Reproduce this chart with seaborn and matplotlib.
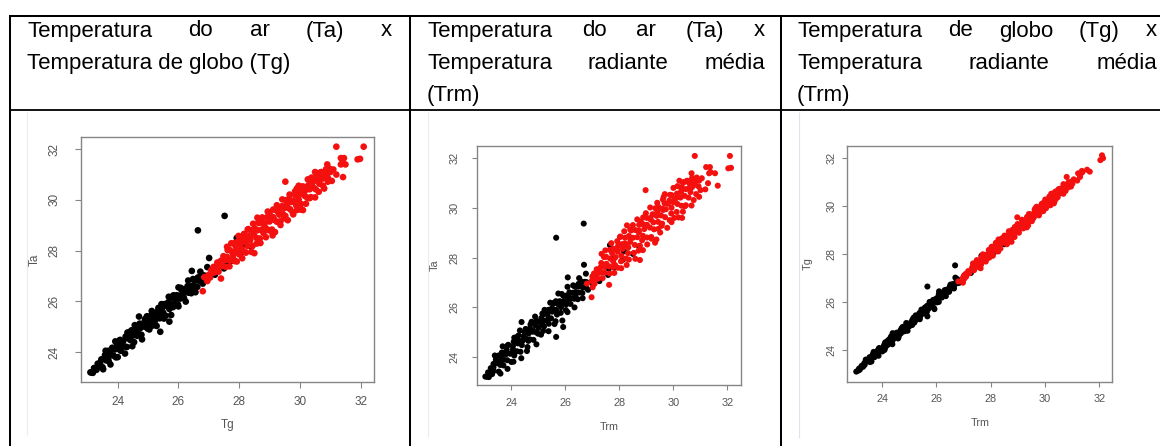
import matplotlib
matplotlib.use("Agg")
import matplotlib.pyplot as plt
from matplotlib.lines import Line2D
import pandas as pd
import seaborn as sns

# ---------------- data ----------------
# black group: Tg, Ta, Trm of each observation
tg_preto = [
    23.10, 23.14, 23.18, 23.22, 23.26, 23.30, 23.34, 23.38, 23.42, 23.46,
    23.50, 23.54, 23.58, 23.62, 23.66, 23.70, 23.74, 23.78, 23.82, 23.86,
    23.90, 23.94, 23.98, 24.02, 24.06, 24.10, 24.14, 24.18, 24.22, 24.26,
    24.30, 24.34, 24.38, 24.42, 24.46, 24.50, 24.54, 24.58, 24.62, 24.66,
    24.70, 24.74, 24.78, 24.82, 24.86, 24.90, 24.94, 24.98, 25.02, 25.06,
    25.10, 25.14, 25.18, 25.22, 25.26, 25.30, 25.34, 25.38, 25.42, 25.46,
    25.50, 25.54, 25.58, 25.62, 25.66, 25.70, 25.74, 25.78, 25.82, 25.86,
    25.90, 25.94, 25.98, 26.02, 26.06, 26.10, 26.14, 26.18, 26.22, 26.26,
    26.30, 26.34, 26.38, 26.42, 26.46, 26.50, 26.54, 26.58, 26.62, 26.66,
    26.70, 26.74, 26.78, 26.82, 26.86,
    24.70, 25.40, 25.70, 26.44, 26.64, 27.01, 27.52, 27.92, 27.00, 27.10,
    27.20, 27.35, 27.50, 27.60, 27.75, 27.85, 28.05, 28.20, 28.40, 28.65,
    26.95, 26.00, 25.75, 24.40, 23.70,
    23.52, 23.60, 23.68, 23.76, 23.84, 23.92, 24.00, 24.08, 24.16, 24.24,
    24.32, 24.40, 24.48, 24.56, 24.64, 24.72, 24.80, 24.88, 24.96, 25.04,
    25.12, 25.20, 25.28, 25.36, 25.44, 25.52, 25.60, 25.68, 25.76, 25.84,
    25.92, 26.00, 26.08, 26.16, 26.24, 26.32, 26.40, 26.48, 26.56, 26.64,
    26.72, 26.80,
]
ta_preto = [
    23.20, 23.19, 23.18, 23.37, 23.36, 23.30, 23.54, 23.43, 23.57, 23.71,
    23.40, 23.74, 23.88, 23.67, 23.81, 23.65, 23.99, 23.88, 24.17, 23.86,
    24.10, 23.79, 24.28, 24.12, 24.46, 24.05, 24.29, 24.43, 24.22, 24.61,
    24.20, 24.54, 24.68, 24.47, 24.86, 24.65, 24.39, 24.83, 24.72, 25.01,
    24.70, 24.94, 24.68, 25.12, 25.01, 25.30, 24.99, 24.93, 25.27, 25.16,
    25.45, 25.04, 25.38, 25.22, 25.56, 25.45, 25.74, 25.33, 25.52, 25.71,
    25.55, 25.89, 25.43, 25.82, 25.96, 25.70, 25.89, 26.18, 25.77, 26.11,
    26.00, 26.24, 25.88, 26.22, 26.11, 26.45, 26.29, 26.13, 26.47, 26.36,
    26.60, 26.34, 26.58, 26.32, 26.61, 26.85, 26.59, 26.83, 26.57, 26.86,
    26.80, 27.04, 26.78, 27.02, 27.01,
    25.40, 24.80, 25.20, 27.20, 28.80, 27.71, 29.37, 28.50, 26.95, 27.25,
    27.05, 27.40, 27.30, 27.55, 27.60, 27.95, 27.90, 28.25, 28.15, 28.45,
    27.35, 26.55, 26.15, 24.80, 24.05,
    23.32, 24.05, 23.78, 23.51, 24.14, 24.42, 23.80, 24.48, 24.21, 23.94,
    24.77, 24.65, 24.23, 25.06, 24.64, 25.12, 24.50, 25.08, 25.41, 24.89,
    25.62, 25.30, 25.03, 25.71, 25.89, 25.32, 25.85, 26.18, 25.46, 26.24,
    26.07, 25.80, 26.53, 26.46, 25.99, 26.82, 26.45, 26.88, 26.36, 26.94,
    27.17, 26.70,
]
trm_preto = [
    23.05, 23.12, 23.18, 23.15, 23.21, 23.30, 23.25, 23.36, 23.35, 23.35,
    23.55, 23.45, 23.44, 23.60, 23.59, 23.72, 23.63, 23.73, 23.66, 23.86,
    23.81, 24.01, 23.84, 23.97, 23.88, 24.12, 24.07, 24.07, 24.22, 24.10,
    24.35, 24.25, 24.24, 24.40, 24.28, 24.43, 24.61, 24.47, 24.57, 24.50,
    24.70, 24.65, 24.83, 24.68, 24.79, 24.72, 24.92, 25.00, 24.91, 25.01,
    24.94, 25.19, 25.09, 25.22, 25.12, 25.23, 25.16, 25.40, 25.37, 25.35,
    25.48, 25.38, 25.65, 25.53, 25.52, 25.70, 25.67, 25.60, 25.84, 25.75,
    25.85, 25.80, 26.03, 25.93, 26.04, 25.94, 26.07, 26.20, 26.11, 26.21,
    26.16, 26.34, 26.29, 26.47, 26.39, 26.34, 26.52, 26.47, 26.64, 26.57,
    26.65, 26.60, 26.78, 26.73, 26.79,
    24.39, 25.67, 25.93, 26.10, 25.67, 26.70, 26.69, 27.66, 27.02, 27.03,
    27.27, 27.33, 27.59, 27.62, 27.82, 27.80, 28.12, 28.18, 28.51, 28.74,
    26.77, 25.75, 25.57, 24.22, 23.54,
    23.61, 23.40, 23.63, 23.87, 23.70, 23.69, 24.09, 23.90, 24.14, 24.38,
    24.12, 24.29, 24.59, 24.33, 24.64, 24.54, 24.94, 24.79, 24.76, 25.11,
    24.89, 25.15, 25.39, 25.20, 25.24, 25.61, 25.49, 25.45, 25.90, 25.66,
    25.85, 26.09, 25.88, 26.02, 26.35, 26.09, 26.38, 26.30, 26.65, 26.50,
    26.52, 26.85,
]

# red group
tg_verm = [
    27.00, 27.04, 27.08, 27.12, 27.16, 27.20, 27.24, 27.28, 27.32, 27.36,
    27.40, 27.44, 27.48, 27.52, 27.56, 27.60, 27.64, 27.68, 27.72, 27.76,
    27.80, 27.84, 27.88, 27.92, 27.96, 28.00, 28.04, 28.08, 28.12, 28.16,
    28.20, 28.24, 28.28, 28.32, 28.36, 28.40, 28.44, 28.48, 28.52, 28.56,
    28.60, 28.64, 28.68, 28.72, 28.76, 28.80, 28.84, 28.88, 28.92, 28.96,
    29.00, 29.04, 29.08, 29.12, 29.16, 29.20, 29.24, 29.28, 29.32, 29.36,
    29.40, 29.44, 29.48, 29.52, 29.56, 29.60, 29.64, 29.68, 29.72, 29.76,
    29.80, 29.84, 29.88, 29.92, 29.96, 30.00, 30.04, 30.08, 30.12, 30.16,
    30.20, 30.24, 30.28, 30.32, 30.36, 30.40, 30.44, 30.48, 30.52, 30.56,
    30.60, 30.64, 30.68, 30.72, 30.76, 30.80, 30.84, 30.88, 30.92, 30.96,
    31.00,
    26.80, 27.40, 26.85, 26.95, 28.60, 29.52, 31.20, 32.10, 31.90, 31.98,
    31.35, 31.45, 31.40, 31.35, 31.42, 31.10, 30.50, 30.70, 31.05, 31.20,
    31.50, 28.50, 29.10, 30.10, 29.90, 28.30, 27.60, 30.90,
    27.62, 27.68, 27.74, 27.80, 27.86, 27.92, 27.98, 28.04, 28.10, 28.16,
    28.22, 28.28, 28.34, 28.40, 28.46, 28.52, 28.58, 28.64, 28.70, 28.76,
    28.82, 28.88, 28.94, 29.00, 29.06, 29.12, 29.18, 29.24, 29.30, 29.36,
    29.42, 29.48, 29.54, 29.60, 29.66, 29.72, 29.78, 29.84, 29.90, 29.96,
    30.02, 30.08, 30.14, 30.20, 30.26, 30.32, 30.38, 30.44, 30.50, 30.56,
    30.62, 30.68, 30.74, 30.80, 30.86, 30.92, 30.98,
]
ta_verm = [
    27.05, 26.94, 27.23, 27.12, 27.36, 27.15, 27.34, 27.53, 27.17, 27.41,
    27.60, 27.39, 27.78, 27.62, 27.36, 27.75, 27.64, 28.03, 27.62, 27.96,
    27.85, 27.59, 28.18, 28.02, 28.36, 27.85, 28.24, 28.08, 28.47, 27.96,
    28.35, 28.54, 28.18, 28.57, 28.41, 28.80, 28.19, 28.63, 28.82, 28.51,
    28.80, 29.09, 28.48, 28.82, 29.11, 28.70, 29.09, 28.88, 29.32, 28.81,
    29.15, 29.34, 28.83, 29.32, 29.21, 29.60, 29.14, 29.53, 29.42, 29.16,
    29.75, 29.44, 29.68, 29.37, 29.86, 29.70, 30.04, 29.63, 29.92, 29.51,
    29.95, 30.19, 29.78, 30.17, 30.01, 30.30, 29.84, 30.23, 30.52, 30.16,
    30.40, 30.09, 30.58, 30.42, 30.11, 30.65, 30.49, 30.83, 30.42, 30.76,
    31.05, 30.64, 30.83, 31.02, 30.56, 31.05, 30.94, 31.08, 30.87, 31.11,
    31.10,
    26.40, 26.90, 26.95, 26.80, 29.30, 30.72, 32.10, 32.10, 31.60, 31.62,
    31.65, 31.65, 31.45, 31.40, 30.90, 31.20, 31.10, 31.10, 30.75, 31.00,
    31.40, 27.90, 28.60, 29.60, 30.45, 28.85, 28.15, 31.40,
    28.02, 27.38, 28.29, 27.70, 28.31, 27.57, 28.58, 28.29, 27.70, 28.66,
    27.92, 28.83, 28.49, 27.95, 29.06, 28.87, 28.28, 29.14, 28.30, 29.31,
    29.02, 28.53, 29.54, 29.45, 28.76, 29.62, 28.73, 29.79, 29.60, 29.01,
    30.02, 29.28, 29.99, 29.20, 30.21, 29.97, 29.43, 30.34, 29.60, 30.56,
    29.62, 30.53, 30.34, 29.85, 30.81, 30.07, 30.88, 30.74, 30.10, 31.01,
    30.32, 31.08, 30.84, 30.45, 31.21, 30.72, 31.23,
]
trm_verm = [
    26.98, 27.09, 27.01, 27.12, 27.07, 27.22, 27.19, 27.17, 27.39, 27.34,
    27.31, 27.46, 27.34, 27.47, 27.65, 27.53, 27.64, 27.52, 27.77, 27.67,
    27.78, 27.95, 27.74, 27.87, 27.78, 28.07, 27.95, 28.08, 27.96, 28.25,
    28.13, 28.10, 28.33, 28.21, 28.34, 28.22, 28.55, 28.41, 28.38, 28.58,
    28.51, 28.44, 28.77, 28.67, 28.60, 28.85, 28.73, 28.88, 28.74, 29.03,
    28.93, 28.90, 29.19, 29.03, 29.14, 29.02, 29.29, 29.17, 29.27, 29.45,
    29.24, 29.44, 29.39, 29.59, 29.42, 29.55, 29.46, 29.70, 29.63, 29.87,
    29.73, 29.68, 29.93, 29.81, 29.94, 29.86, 30.13, 30.01, 29.94, 30.16,
    30.11, 30.31, 30.14, 30.27, 30.47, 30.29, 30.42, 30.32, 30.57, 30.47,
    30.40, 30.64, 30.61, 30.59, 30.85, 30.69, 30.80, 30.79, 30.94, 30.89,
    30.96,
    26.98, 27.63, 26.81, 27.02, 28.29, 28.98, 30.80, 32.10, 32.04, 32.14,
    31.22, 31.36, 31.38, 31.33, 31.65, 31.06, 30.23, 30.52, 31.19, 31.29,
    31.55, 28.77, 29.33, 30.33, 29.65, 28.05, 27.35, 30.68,
    27.44, 27.82, 27.49, 27.85, 27.66, 28.08, 27.71, 27.93, 28.28, 27.93,
    28.36, 28.03, 28.27, 28.60, 28.19, 28.36, 28.72, 28.41, 28.88, 28.51,
    28.73, 29.04, 28.67, 28.80, 29.20, 28.89, 29.38, 28.99, 29.16, 29.52,
    29.15, 29.57, 29.34, 29.78, 29.41, 29.61, 29.94, 29.62, 30.04, 29.69,
    30.20, 29.88, 30.05, 30.36, 30.01, 30.43, 30.16, 30.31, 30.68, 30.36,
    30.76, 30.50, 30.70, 30.96, 30.70, 31.01, 30.87,
]

ticks = [24, 26, 28, 30, 32]
tick_labels = ["24", "26", "28", "30", "32"]

cabecalho = [
    [("Temperatura do ar (Ta) x", True), ("Temperatura de globo (Tg)", False)],
    [("Temperatura do ar (Ta) x", True), ("Temperatura radiante média", True), ("(Trm)", False)],
    [("Temperatura de globo (Tg) x", True), ("Temperatura radiante média", True), ("(Trm)", False)],
]
paineis_xy = [("Tg", "Ta"), ("Trm", "Ta"), ("Trm", "Tg")]

# ---------------- figure ----------------
sns.set_theme(style="white")
plt.rcParams['font.family'] = ['Liberation Sans', 'DejaVu Sans']

W, H = 1160, 446
fig = plt.figure(figsize=(W / 100, H / 100), dpi=100)
fig.patch.set_facecolor("white")


def fx(x):
    return x / W


def fy(y):
    return 1 - y / H


def hline(y, x0, x1, lw=1.45, color="black"):
    fig.add_artist(Line2D([fx(x0), fx(x1)], [fy(y), fy(y)], transform=fig.transFigure,
                          color=color, lw=lw, solid_capstyle="butt"))


def vline(x, y0, y1, lw=1.45, color="black"):
    fig.add_artist(Line2D([fx(x), fx(x)], [fy(y0), fy(y1)], transform=fig.transFigure,
                          color=color, lw=lw, solid_capstyle="butt"))


# table grid
hline(15.8, 9, 1160)
hline(109.6, 9, 1160, lw=1.3)
vline(9.8, 15, 446)
vline(410.3, 15, 446)
vline(781.0, 15, 446)

# faint edges of the pasted images
vline(27.0, 112, 435, lw=0.8, color="#ececec")
vline(428.0, 112, 437, lw=0.8, color="#ececec")
vline(799.0, 112, 438, lw=0.8, color="#dce5ee")

# header text
txt_kw = dict(fontsize=16, color="black", ha="left", va="baseline",
              family=["Liberation Sans", "DejaVu Sans"])
renderer = fig.canvas.get_renderer()
col_x = [(27, 392), (427, 765), (797, 1157)]
baselines = [36.5, 69.0, 101.0]
for (x0, x1), linhas in zip(col_x, cabecalho):
    for (texto, just), yb in zip(linhas, baselines):
        palavras = texto.split(" ")
        if not just:
            fig.text(fx(x0), fy(yb), texto, **txt_kw)
            continue
        objs = [fig.text(0, 0, p, **txt_kw) for p in palavras]
        larg = [o.get_window_extent(renderer).width for o in objs]
        gap = (x1 - x0 - sum(larg)) / (len(palavras) - 1)
        xx = x0
        for o, w in zip(objs, larg):
            o.set_position((fx(xx), fy(yb)))
            xx += w + gap

# scatter panels
dados = pd.concat([
    pd.DataFrame({"Tg": tg_preto, "Ta": ta_preto, "Trm": trm_preto, "grupo": "preto"}),
    pd.DataFrame({"Tg": tg_verm, "Ta": ta_verm, "Trm": trm_verm, "grupo": "vermelho"}),
], ignore_index=True)
paleta = {"preto": "#000000", "vermelho": "#f51010"}

layout = [
    dict(box=(80.7, 137.3, 374.0, 381.7), xlim=(22.78, 32.44), ylim=(22.83, 32.47),
         s=23, fs=8.5, tl=6.0, xpad=6.0, ypad=10.5, xl=43.3, yl=45.7),
    dict(box=(476.7, 146.0, 741.0, 385.0), xlim=(22.73, 32.51), ylim=(22.86, 32.50),
         s=19, fs=7.8, tl=5.4, xpad=5.5, ypad=8.5, xl=42.0, yl=41.7),
    dict(box=(847.3, 145.7, 1112.3, 381.7), xlim=(22.72, 32.48), ylim=(22.68, 32.50),
         s=19, fs=7.8, tl=5.4, xpad=5.0, ypad=4.0, xl=41.3, yl=39.3),
]

gray_box = "#858585"
gray_txt = "#555555"
for (xc, yc), L in zip(paineis_xy, layout):
    l, t, r, b = L["box"]
    ax = fig.add_axes([fx(l), fy(b), (r - l) / W, (b - t) / H])
    sns.scatterplot(data=dados, x=xc, y=yc, hue="grupo", palette=paleta,
                    s=L["s"], linewidth=0, legend=False, ax=ax)
    ax.set_xlim(*L["xlim"])
    ax.set_ylim(*L["ylim"])
    ax.set_facecolor("white")
    ax.set_xticks(ticks)
    ax.set_yticks(ticks)
    ax.set_xticklabels(tick_labels)
    ax.set_yticklabels(tick_labels, rotation=90, va="center")
    ax.grid(False)
    for sp in ax.spines.values():
        sp.set_visible(True)
        sp.set_color(gray_box)
        sp.set_linewidth(1.0)
    lpt = L["tl"] * 0.72
    ax.tick_params(axis="both", direction="out", length=lpt, width=0.8, color=gray_box,
                   labelcolor=gray_txt, labelsize=L["fs"], left=True, bottom=True)
    ax.tick_params(axis="x", pad=L["xpad"])
    ax.tick_params(axis="y", pad=L["ypad"])
    ax.set_xlabel(xc, fontsize=L["fs"], color=gray_txt)
    ax.set_ylabel(yc, fontsize=L["fs"], color=gray_txt, rotation=90)
    ax.xaxis.set_label_coords(0.5, -L["xl"] / (b - t))
    ax.yaxis.set_label_coords(-L["yl"] / (r - l), 0.5)
    ax.xaxis.label.set_va("center")
    ax.yaxis.label.set_va("center")
    ax.yaxis.label.set_ha("center")

fig.savefig("out.png", dpi=100, facecolor="white")
